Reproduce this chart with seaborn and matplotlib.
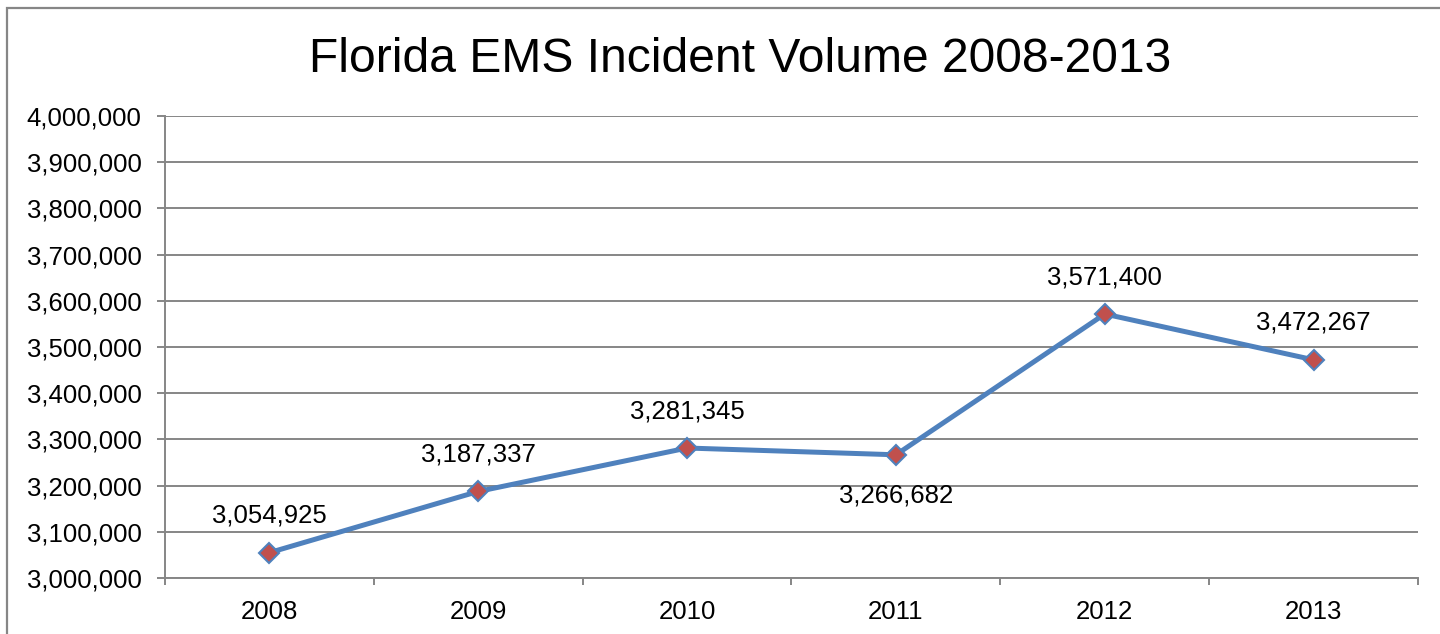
import numpy as np
import pandas as pd
import seaborn as sns
import matplotlib.pyplot as plt
from matplotlib.patches import Rectangle
from matplotlib.ticker import FuncFormatter, FixedLocator

# data
years = ['2008', '2009', '2010', '2011', '2012', '2013']
incidents = [3054925, 3187337, 3281345, 3266682, 3571400, 3472267]
label_side = ['above', 'above', 'above', 'below', 'above', 'above']

df = pd.DataFrame({'pos': range(len(years)), 'year': years, 'incidents': incidents})

sns.set_style('white')
plt.rcParams['font.family'] = ['Liberation Sans', 'DejaVu Sans']
plt.rcParams['text.color'] = 'black'
plt.rcParams['xtick.labelcolor'] = 'black'
plt.rcParams['ytick.labelcolor'] = 'black'

fig = plt.figure(figsize=(14.4, 6.34), dpi=100)
ax = fig.add_axes([165/1440, 1-578/634, (1418-165)/1440, (578-116)/634])

grid_col = '#868686'
sns.lineplot(data=df, x='pos', y='incidents', ax=ax, color='#4F81BD', linewidth=3.6,
             marker='D', markersize=10, markerfacecolor='#C0504D',
             markeredgecolor='#4F81BD', markeredgewidth=1.5, zorder=3)

ax.set_xlim(-0.5, len(years) - 0.5)
ax.set_ylim(3000000, 4000000)
ax.set_yticks(np.arange(3000000, 4000001, 100000))
ax.yaxis.set_major_formatter(FuncFormatter(lambda v, p: f'{int(v):,}'))
ax.set_xticks(df['pos'])
ax.set_xticklabels(years)
ax.xaxis.set_minor_locator(FixedLocator(np.arange(-0.5, len(years), 1.0)))
ax.set_xlabel('')
ax.set_ylabel('')

ax.grid(axis='y', color=grid_col, linewidth=1.4)
ax.grid(axis='x', visible=False)
ax.set_axisbelow(True)
for s in ['top', 'right']:
    ax.spines[s].set_visible(False)
for s in ['left', 'bottom']:
    ax.spines[s].set_color(grid_col)
    ax.spines[s].set_linewidth(1.4)

ax.tick_params(axis='y', which='major', length=6, width=1.4, color=grid_col,
               labelsize=18.5, pad=11, left=True, labelcolor='black')
ax.tick_params(axis='x', which='major', length=0, labelsize=18.5, pad=16, labelcolor='black')
ax.tick_params(axis='x', which='minor', length=5, width=1.4, color=grid_col,
               direction='out', bottom=True)

for i, (v, side) in enumerate(zip(incidents, label_side)):
    if side == 'above':
        ax.annotate(f'{v:,}', (i, v), xytext=(0, 18), textcoords='offset points',
                    ha='center', va='bottom', fontsize=18.5, color='black')
    else:
        ax.annotate(f'{v:,}', (i, v), xytext=(0, -21), textcoords='offset points',
                    ha='center', va='top', fontsize=18.5, color='black')

fig.text(740/1440, 1-60/634, 'Florida EMS Incident Volume 2008-2013',
         ha='center', va='center', fontsize=34.6, color='black')

# outer chart border
fig.patches.append(Rectangle((7/1440, -0.1), 1.2, 1-8/634+0.1, transform=fig.transFigure,
                             fill=False, edgecolor='#868686', linewidth=1.6))

fig.savefig('out.png', dpi=100)
